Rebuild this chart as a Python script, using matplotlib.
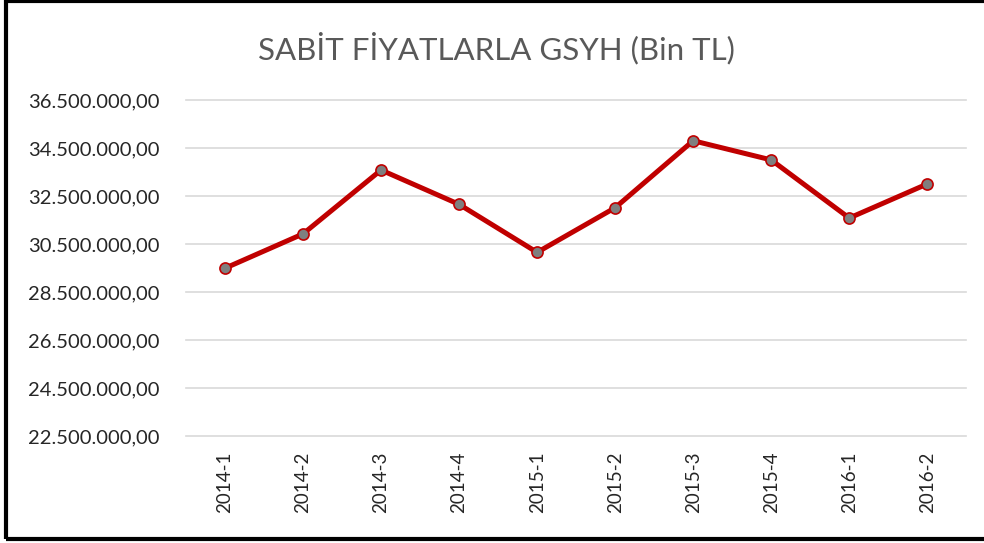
import matplotlib
matplotlib.use("Agg")
import matplotlib.pyplot as plt
from matplotlib.patches import Rectangle
from matplotlib.ticker import FuncFormatter

# quarterly GDP at constant prices (thousand TL)
quarters = ["2014-1", "2014-2", "2014-3", "2014-4", "2015-1",
            "2015-2", "2015-3", "2015-4", "2016-1", "2016-2"]
gdp = [29490000, 30920000, 33580000, 32150000, 30150000,
       32010000, 34800000, 34000000, 31580000, 33000000]
yticks = [22500000, 24500000, 26500000, 28500000,
          30500000, 32500000, 34500000, 36500000]

plt.rcParams['font.family'] = ['Lato', 'DejaVu Sans']

fig = plt.figure(figsize=(9.84, 5.43), dpi=100)
ax = fig.add_axes([0.189, 0.197, 0.793, 0.619])

x = range(len(quarters))
ax.plot(x, gdp, color='#c00000', lw=3.6, marker='o', ms=8,
        markerfacecolor='#7f7f7f', markeredgecolor='#c00000', mew=1.2,
        solid_capstyle='round', zorder=3)

ax.set_xlim(-0.5, len(quarters) - 0.5)
ax.set_ylim(yticks[0], yticks[-1])
ax.set_yticks(yticks)
ax.set_xticks(list(x))
ax.set_xticklabels(quarters, rotation=90)


def tr_fmt(v, pos):
    s = f'{v:,.2f}'
    return s.replace(',', 'X').replace('.', ',').replace('X', '.')


ax.yaxis.set_major_formatter(FuncFormatter(tr_fmt))
ax.grid(axis='y', color='#d9d9d9', lw=1.2)
ax.set_axisbelow(True)
for gl in ax.get_ygridlines():
    gl.set_clip_on(False)
for s in ax.spines.values():
    s.set_visible(False)
ax.tick_params(axis='both', length=0, colors='#262626', labelsize=14.5)
ax.tick_params(axis='y', pad=19)
ax.tick_params(axis='x', pad=11, labelsize=13.5)

fig.text(0.505, 0.912, 'SABİT FİYATLARLA GSYH (Bin TL)', ha='center',
         va='center', fontsize=22.5, color='#595959')

# outer frame
fig.patches.append(Rectangle((0.006, 0.008), 1.2, 0.99, transform=fig.transFigure,
                             fill=False, edgecolor='black', lw=3))

fig.savefig('out.png', dpi=100)
